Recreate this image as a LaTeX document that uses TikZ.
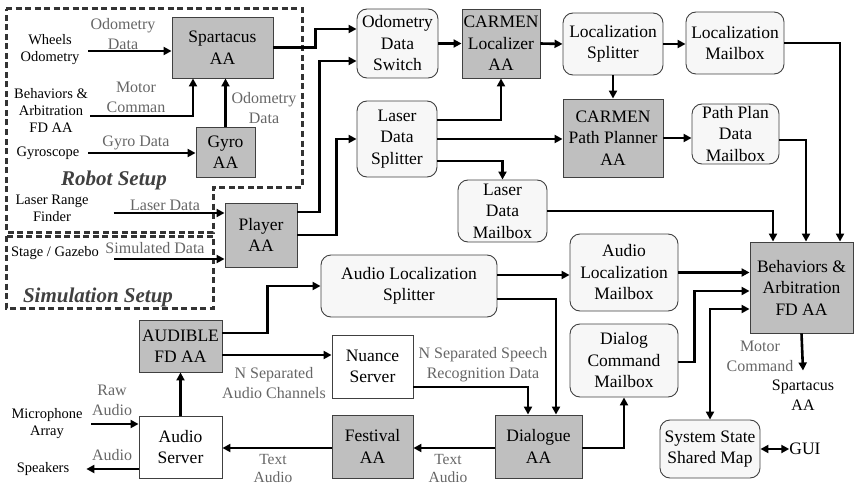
\documentclass[tikz,border=0pt]{standalone}
\usepackage{fontspec}
\setmainfont{Liberation Serif}
\usetikzlibrary{arrows.meta}

\begin{document}
\begin{tikzpicture}[x=1pt,y=-1pt,
  every node/.style={align=center,inner sep=0pt,font=\fontsize{17.5}{21.5}\selectfont},
  aa/.style 2 args={rectangle,draw=black!75,line width=0.9pt,fill=black!25,minimum width=#1pt,minimum height=#2pt},
  mb/.style 2 args={rectangle,rounded corners=10pt,draw=black!75,line width=0.9pt,fill=black!3,minimum width=#1pt,minimum height=#2pt},
  srv/.style 2 args={rectangle,draw=black!75,line width=0.9pt,fill=white,minimum width=#1pt,minimum height=#2pt},
  src/.style={inner sep=2pt,font=\fontsize{14.5}{17}\selectfont},
  lbl/.style={text=black!60,font=\fontsize{16}{20}\selectfont},
  link/.style={line width=2.6pt,-{Triangle[length=8pt,width=8pt]}},
  link2/.style={line width=2.6pt,{Triangle[length=8pt,width=8pt]}-{Triangle[length=8pt,width=8pt]}},
  setup/.style={draw=black!80,line width=3pt,dash pattern=on 6pt off 3.5pt},
  title/.style={text=black!75,font=\fontsize{21}{24}\selectfont\bfseries\itshape}]
\useasboundingbox (0,0) rectangle (856,484);

% setups
\draw[setup] (6,9) -- (302,9) -- (302,187) -- (213,187) -- (213,232) -- (6,232) -- cycle;
\draw[setup] (6,236) rectangle (213,308);
\node[title] (robot) at (114,180) {Robot Setup};
\node[title] (sim) at (98,297) {Simulation Setup};

% inputs
\node[src] (wheels) at (50,50) {Wheels\\Odometry};
\node[src] (behavin) at (51,110) {Behaviors \&\\Arbitration\\FD AA};
\node[src] (gyroscope) at (48,153) {Gyroscope};
\node[src] (laserrf) at (52,208) {Laser Range\\Finder};
\node[src] (stage) at (55,253) {Stage / Gazebo};
\node[src] (mic) at (47,424) {Microphone\\Array};
\node[src] (speakers) at (43,469) {Speakers};

% agents and mailboxes
\node[aa={101}{61}] (spart) at (222.5,47.5) {Spartacus\\AA};
\node[aa={59}{50}] (gyro) at (225.5,152) {Gyro\\AA};
\node[aa={72}{64}] (player) at (261,235) {Player\\AA};
\node[mb={81}{69}] (odosw) at (397.5,43.5) {Odometry\\Data\\Switch};
\node[aa={78}{69}] (loc) at (501,43.5) {CARMEN\\Localizer\\AA};
\node[mb={100}{62}] (locsp) at (613,44) {Localization\\Splitter};
\node[mb={98}{62}] (locmb) at (735,43) {Localization\\Mailbox};
\node[mb={80}{76}] (lasersp) at (397,139) {Laser\\Data\\Splitter};
\node[aa={100}{78}] (planner) at (613,138) {CARMEN\\Path Planner\\AA};
\node[mb={87}{60}] (planmb) at (735.5,134) {Path Plan\\Data\\Mailbox};
\node[mb={89}{62}] (lasermb) at (502.5,211) {Laser\\Data\\Mailbox};
\node[mb={176}{62}] (audiosp) at (409,286) {Audio Localization\\Splitter};
\node[mb={108}{77}] (audiomb) at (624,272.5) {Audio\\Localization\\Mailbox};
\node[mb={108}{73}] (dialogmb) at (624,360.5) {Dialog\\Command\\Mailbox};
\node[aa={103}{91}] (behav) at (801.5,287.5) {Behaviors \&\\Arbitration\\FD AA};
\node[mb={100}{58}] (sysmap) at (710,449) {System State\\Shared Map};
\node[aa={83}{52}] (audible) at (180.5,346) {AUDIBLE\\FD AA};
\node[srv={81}{63}] (nuance) at (372.5,366.5) {Nuance\\Server};
\node[aa={87}{63}] (dialogue) at (538.5,446.5) {Dialogue\\AA};
\node[aa={81}{63}] (festival) at (372.5,446.5) {Festival\\AA};
\node[srv={83}{62}] (audiosrv) at (180.5,447) {Audio\\Server};

% outputs
\node[lbl,text=black] (spartout) at (803,395) {Spartacus\\AA};
\node (gui) at (805,449) {GUI};

% labels
\node[lbl] (lodo) at (123,34) {Odometry\\Data};
\node[lbl] (lmotor) at (136,97) {Motor\\Comman};
\node[lbl] (lgodo) at (264,108) {Odometry\\Data};
\node[lbl] (lgyro) at (136,143) {Gyro Data};
\node[lbl] (llaser) at (165,205) {Laser Data};
\node[lbl] (lsim) at (155,248) {Simulated Data};
\node[lbl] (lchan) at (274,383) {N Separated\\Audio Channels};
\node[lbl] (lspeech) at (483,365) {N Separated Speech\\Recognition Data};
\node[lbl,font=\fontsize{15.5}{18}\selectfont] (ltext) at (273,468) {Text\\Audio};
\node[lbl,font=\fontsize{15.5}{18}\selectfont] (ltext2) at (448,468) {Text\\Audio};
\node[lbl] (lraw) at (112,400) {Raw\\Audio};
\node[lbl] (laudio) at (112,455) {Audio};
\node[lbl] (lmcmd) at (760,356) {Motor\\Command};

% robot side
\draw[link] ([xshift=6.5pt,yshift=-1pt]wheels.east) -- ([yshift=-1pt]wheels.east -| spart.west);
\draw[link] ([yshift=-6pt]behavin.east) -| ([xshift=-29.5pt]spart.south);
\draw[link] ([xshift=6.5pt]gyroscope.east) -- (gyroscope.east -| gyro.west);
\draw[link] (gyro.north) -- (gyro.north |- spart.south);
\draw[link] ([xshift=23pt,yshift=-5pt]laserrf.east) -- ([yshift=-5pt]laserrf.east -| player.west);
\draw[link] ([xshift=13pt,yshift=-6pt]stage.east) -- ([yshift=-6pt]stage.east -| player.west);
\draw[link] (spart.east) -- ++(42,0) |- ([yshift=14.5pt]odosw.west);
\draw[link] ([yshift=23pt]player.east) -- ++(22,0) |- ([yshift=-17.5pt]odosw.west);
\draw[link] (player.east) -- ++(39,0) |- (lasersp.west);

% localization and planning
\draw[link] (odosw.east) -- (loc.west);
\draw[link] (loc.east) -- (locsp.west);
\draw[link] (locsp.east) -- (locsp.east -| locmb.west);
\draw[link] (locsp.south) -- (planner.north);
\draw[link] (planner.east) -- (planner.east -| planmb.west);
\draw[link] ([yshift=19pt]lasersp.east) -| (loc.south);
\draw[link] (lasersp.east) -- (lasersp.east -| planner.west);
\draw[link] ([yshift=-22pt]lasersp.east) -| (lasermb.north);
\draw[link] (locmb.east) -| ([xshift=38.5pt]behav.north);
\draw[link] ([yshift=-6pt]planmb.east) -| ([xshift=4.5pt]behav.north);
\draw[link] (lasermb.east) -| ([xshift=-28.5pt]behav.north);

% audio and dialogue
\draw[link] ([yshift=13pt]audible.east) -- ++(45,0) |- (audiosp.west);
\draw[link] ([yshift=-9pt]audible.east) -- ([yshift=-9pt]audible.east -| nuance.west);
\draw[link] ([yshift=11pt]audiosp.east) -- ([yshift=11pt]audiosp.east -| audiomb.west);
\draw[link] ([yshift=-13pt]audiosp.east) -| ([xshift=17.5pt]dialogue.north);
\draw[link] ([yshift=-20.5pt]nuance.east) -| ([xshift=-10.5pt]dialogue.north);
\draw[link] (audiomb.east) -- (audiomb.east -| behav.west);
\draw[link] ([yshift=-1.5pt]dialogmb.east) -- ++(16,0) |- ([yshift=-3.5pt]behav.west);
\draw[link2] ([yshift=-21.5pt]behav.west) -| (sysmap.north);
\draw[link2] (sysmap.east) -- (gui.west);
\draw[link] (behav.south) -- ([yshift=9pt]spartout.north);
\draw[link] ([yshift=-1.5pt]dialogue.east) -| (dialogmb.south);
\draw[link] ([yshift=-1.5pt]dialogue.west) -- ([yshift=-1.5pt]dialogue.west -| festival.east);
\draw[link] ([yshift=-1.5pt]festival.west) -- ([yshift=-1.5pt]festival.west -| audiosrv.east);
\draw[link] (audiosrv.north) -- (audible.south);
\draw[link] ([xshift=6.5pt]mic.east) -- (mic.east -| audiosrv.west);
\draw[link] ([yshift=-22pt]audiosrv.west) -- ([xshift=15pt]speakers.east);
\end{tikzpicture}
\end{document}
